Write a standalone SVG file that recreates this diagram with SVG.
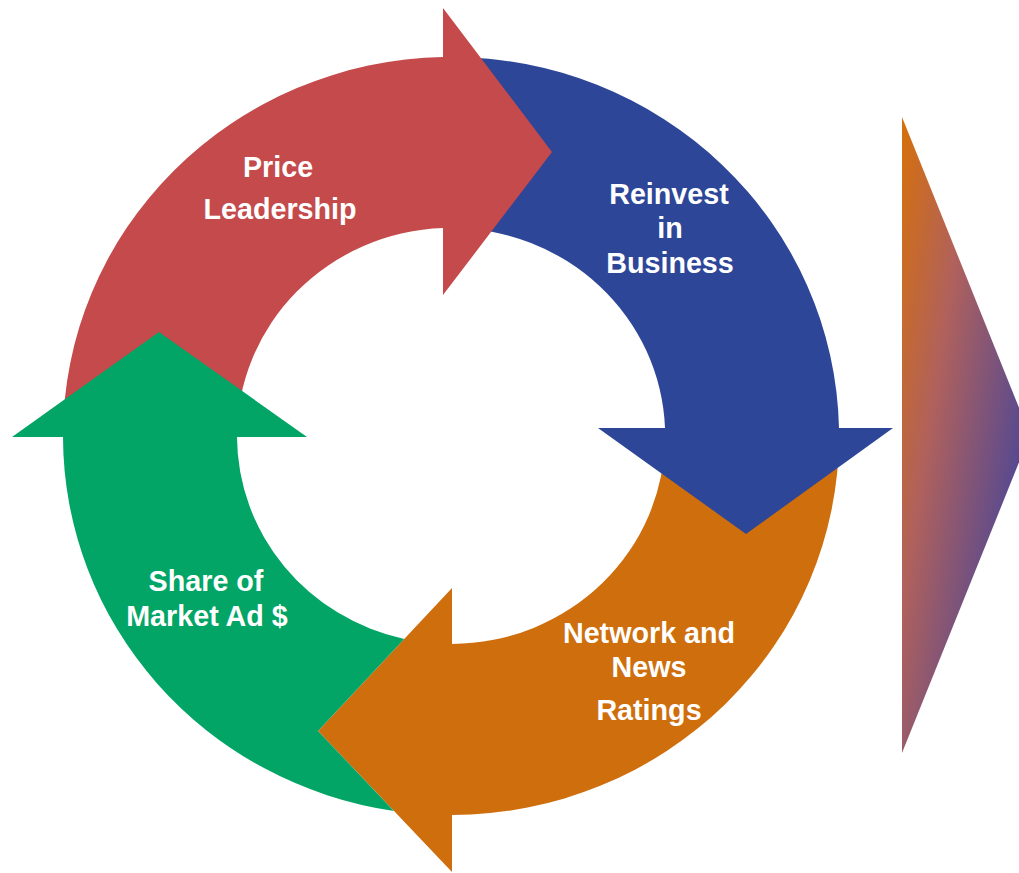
<svg xmlns="http://www.w3.org/2000/svg" width="1019" height="873" viewBox="0 0 1019 873">
<style>
.lbl{font-family:"Liberation Sans",Arial,sans-serif;font-weight:bold;font-size:28.7px;fill:#FFFFFF;text-anchor:middle}
</style>
<defs>
<linearGradient id="tri" gradientUnits="userSpaceOnUse" x1="902" y1="117" x2="1065" y2="142">
<stop offset="0" stop-color="#D6700C"/>
<stop offset="0.45" stop-color="#B0615C"/>
<stop offset="1" stop-color="#5A4A8E"/>
</linearGradient>
</defs>
<rect width="1019" height="873" fill="#FFFFFF"/>
<g id="connectors"></g>
<g id="network-news-ratings">
<path fill="#CE6E0C" d="M 839 436 A 388 379 0 0 1 452 815 L 452 872 L 318 731 L 452 588 L 452 644 A 214 208 0 0 0 665 436 Z"/>
<text class="lbl" x="649" y="643">Network and</text>
<text class="lbl" x="649" y="677">News</text>
<text class="lbl" x="649" y="720">Ratings</text>
</g>
<g id="reinvest-in-business">
<path fill="#2E4698" d="M 451 57 A 388 379 0 0 1 839 428 L 893 428 L 746 534 L 598 428 L 665 428 A 214 208 0 0 0 451 228 Z"/>
<text class="lbl" x="669" y="204">Reinvest</text>
<text class="lbl" x="670" y="238">in</text>
<text class="lbl" x="670" y="273">Business</text>
</g>
<g id="price-leadership">
<path fill="#C44A4C" d="M 63 436 A 388 379 0 0 1 443 57 L 443 8 L 552 152 L 443 295 L 443 228 A 214 208 0 0 0 237 436 Z"/>
<text class="lbl" x="278" y="177">Price</text>
<text class="lbl" x="280" y="219">Leadership</text>
</g>
<g id="share-of-market-ad">
<path fill="#02A566" d="M 404.2 639 L 318 731 L 393.9 810.9 A 388 379 0 0 1 63 437 L 12 437 L 159 332 L 307 437 L 237 437 A 214 208 0 0 0 404.2 639 Z"/>
<text class="lbl" x="206" y="591">Share of</text>
<text class="lbl" x="207" y="626">Market Ad $</text>
</g>
<g id="outcome-arrow">
<polygon fill="url(#tri)" points="902,117 1030,435 902,753"/>
</g>
</svg>
